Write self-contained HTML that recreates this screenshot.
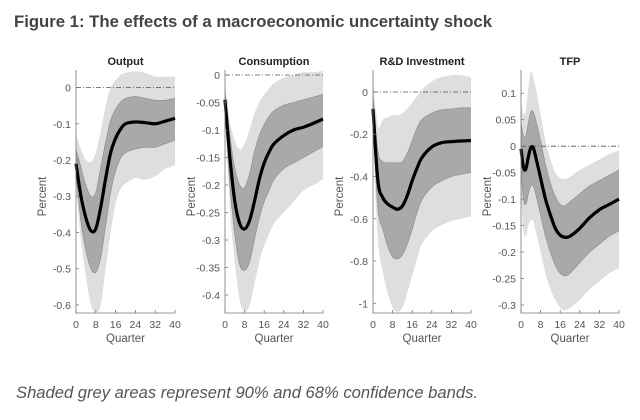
<!DOCTYPE html>
<html><head><meta charset="utf-8"><style>
body{margin:0;background:#fff;width:640px;height:415px;overflow:hidden;font-family:"Liberation Sans",sans-serif}
</style></head><body>
<svg id="fig" width="640" height="415" xmlns="http://www.w3.org/2000/svg">
<text x="14" y="27" font-size="16.5" font-weight="bold" fill="#444" textLength="478" lengthAdjust="spacingAndGlyphs">Figure 1: The effects of a macroeconomic uncertainty shock</text>
<text x="16" y="398" font-size="16.5" font-style="italic" fill="#555" textLength="462" lengthAdjust="spacingAndGlyphs">Shaded grey areas represent 90% and 68% confidence bands.</text>
</svg>
<script>
const quarters = [0,2,4,6,8,10,12,14,16,18,20,24,28,32,36,40];
const outMed = [-0.21,-0.30,-0.36,-0.395,-0.39,-0.33,-0.25,-0.18,-0.14,-0.115,-0.10,-0.095,-0.097,-0.10,-0.093,-0.085];
const outU68 = [-0.17,-0.22,-0.27,-0.30,-0.29,-0.22,-0.15,-0.09,-0.06,-0.04,-0.03,-0.025,-0.03,-0.035,-0.035,-0.03];
const outL68 = [-0.24,-0.37,-0.45,-0.50,-0.51,-0.47,-0.38,-0.29,-0.23,-0.195,-0.18,-0.17,-0.165,-0.165,-0.155,-0.145];
const outU90 = [-0.13,-0.17,-0.20,-0.205,-0.18,-0.12,-0.05,0.0,0.02,0.035,0.04,0.045,0.04,0.03,0.03,0.03];
const outL90 = [-0.27,-0.42,-0.52,-0.60,-0.62,-0.60,-0.50,-0.40,-0.32,-0.28,-0.265,-0.25,-0.255,-0.245,-0.225,-0.215];
const conMed = [-0.045,-0.15,-0.23,-0.27,-0.28,-0.265,-0.23,-0.19,-0.16,-0.14,-0.125,-0.11,-0.10,-0.095,-0.088,-0.08];
const conU68 = [-0.03,-0.11,-0.17,-0.20,-0.205,-0.18,-0.14,-0.11,-0.09,-0.075,-0.065,-0.055,-0.05,-0.045,-0.04,-0.035];
const conL68 = [-0.06,-0.2,-0.29,-0.345,-0.355,-0.34,-0.3,-0.26,-0.23,-0.21,-0.19,-0.17,-0.16,-0.15,-0.14,-0.13];
const conU90 = [-0.02,-0.085,-0.12,-0.135,-0.125,-0.1,-0.07,-0.05,-0.035,-0.025,-0.015,-0.005,0.0,0.005,0.005,0.008];
const conL90 = [-0.07,-0.24,-0.34,-0.41,-0.43,-0.42,-0.38,-0.34,-0.31,-0.29,-0.27,-0.25,-0.23,-0.21,-0.2,-0.19];
const rdMed = [-0.08,-0.42,-0.5,-0.53,-0.545,-0.555,-0.54,-0.49,-0.42,-0.36,-0.31,-0.26,-0.24,-0.235,-0.232,-0.23];
const rdU68 = [-0.02,-0.28,-0.33,-0.335,-0.335,-0.335,-0.33,-0.29,-0.23,-0.17,-0.13,-0.1,-0.085,-0.08,-0.075,-0.075];
const rdL68 = [-0.15,-0.55,-0.65,-0.73,-0.78,-0.79,-0.77,-0.72,-0.65,-0.57,-0.51,-0.45,-0.42,-0.4,-0.39,-0.38];
const rdU90 = [0.05,-0.16,-0.13,-0.12,-0.11,-0.11,-0.1,-0.08,-0.05,-0.02,0.01,0.05,0.07,0.08,0.08,0.07];
const rdL90 = [-0.2,-0.7,-0.85,-0.95,-1.02,-1.04,-1.02,-0.95,-0.87,-0.79,-0.72,-0.66,-0.63,-0.61,-0.6,-0.59];
const tfpQuarters = [0,1,2,3,4,5,6,8,10,12,14,16,18,20,24,28,32,36,40];
const tfpMed = [-0.005,-0.04,-0.043,-0.02,-0.003,-0.003,-0.02,-0.06,-0.1,-0.13,-0.155,-0.168,-0.172,-0.17,-0.155,-0.135,-0.12,-0.11,-0.1];
const tfpU68 = [0.045,0.02,0.02,0.045,0.065,0.065,0.05,0.01,-0.035,-0.07,-0.095,-0.11,-0.112,-0.105,-0.09,-0.075,-0.065,-0.055,-0.045];
const tfpL68 = [-0.05,-0.1,-0.11,-0.09,-0.075,-0.075,-0.09,-0.13,-0.17,-0.2,-0.225,-0.24,-0.245,-0.24,-0.22,-0.2,-0.185,-0.17,-0.16];
const tfpU90 = [0.09,0.06,0.07,0.11,0.14,0.13,0.11,0.06,0.01,-0.025,-0.05,-0.06,-0.062,-0.058,-0.045,-0.035,-0.025,-0.015,-0.008];
const tfpL90 = [-0.1,-0.16,-0.17,-0.15,-0.14,-0.14,-0.16,-0.2,-0.24,-0.27,-0.29,-0.305,-0.31,-0.305,-0.29,-0.27,-0.255,-0.24,-0.23];
const xTicks = [0,8,16,24,32,40];
const outTicks = [0,-0.1,-0.2,-0.3,-0.4,-0.5,-0.6];
const conTicks = [0,-0.05,-0.1,-0.15,-0.2,-0.25,-0.3,-0.35,-0.4];
const rdTicks = [0,-0.2,-0.4,-0.6,-0.8,-1];
const tfpTicks = [0.1,0.05,0,-0.05,-0.1,-0.15,-0.2,-0.25,-0.3];

const NS="http://www.w3.org/2000/svg";
const svg=document.getElementById('fig');
function mk(tag,attrs,parent){const e=document.createElementNS(NS,tag);for(const k in attrs)e.setAttribute(k,attrs[k]);(parent||svg).appendChild(e);return e;}
function pts(xs,ys,sx,sy){return xs.map((q,i)=>[sx(q),sy(ys[i])]);}
function curve(p,start){let d=start?`M${p[0][0]},${p[0][1]}`:`L${p[0][0]},${p[0][1]}`;
 for(let i=0;i<p.length-1;i++){const p0=p[Math.max(0,i-1)],p1=p[i],p2=p[i+1],p3=p[Math.min(p.length-1,i+2)];
  const c1=[p1[0]+(p2[0]-p0[0])/6,p1[1]+(p2[1]-p0[1])/6],c2=[p2[0]-(p3[0]-p1[0])/6,p2[1]-(p3[1]-p1[1])/6];
  d+=`C${c1[0]},${c1[1]} ${c2[0]},${c2[1]} ${p2[0]},${p2[1]}`;}return d;}
function fmt(v){return String(v);}
function panel(name,title,x0,x1,yTop,yBot,vTop,vBot,qs,med,u68,l68,u90,l90,ticks){
 const g=mk('g',{});
 
 
 const sx=q=>x0+(x1-x0)*q/40, sy=v=>yTop+(yBot-yTop)*(vTop-v)/(vTop-vBot);
 const band=(u,l,fill,nm)=>{const pu=pts(qs,u,sx,sy),pl=pts(qs,l,sx,sy).reverse();
  const e=mk('path',{d:curve(pu,true)+curve(pl,false)+'Z',fill:fill},g);
  
  };
 band(u90,l90,'#dedede',name+'-band-90');
 band(u68,l68,'#a9a9a9',name+'-band-68');
 [[u68],[l68]].forEach(a=>{mk('path',{d:curve(pts(qs,a[0],sx,sy),true),fill:'none',stroke:'#888','stroke-width':0.6},g);});
 const z=mk('line',{x1:x0,x2:x1,y1:sy(0),y2:sy(0),stroke:'#555','stroke-width':0.8,'stroke-dasharray':'5,2,1,2'},g);
 
 
 const m=mk('path',{d:curve(pts(qs,med,sx,sy),true),fill:'none',stroke:'#000','stroke-width':3.2,'stroke-linejoin':'round'},g);
 
 
 const ax=mk('path',{d:`M${x0},${yTop}V${yBot}H${x1}`,fill:'none',stroke:'#777','stroke-width':0.8},g);
 
 
 xTicks.forEach(t=>{mk('line',{x1:sx(t),x2:sx(t),y1:yBot,y2:yBot-3,stroke:'#777','stroke-width':0.8},g);
  const tx=mk('text',{x:sx(t),y:yBot+15,'font-size':10.5,fill:'#555','text-anchor':'middle'},g);tx.textContent=t;
  
  });
 ticks.forEach(t=>{mk('line',{x1:x0,x2:x0+3,y1:sy(t),y2:sy(t),stroke:'#777','stroke-width':0.8},g);
  const tx=mk('text',{x:x0-5,y:sy(t)+4,'font-size':10.5,fill:'#555','text-anchor':'end'},g);tx.textContent=fmt(t);
  
  });
 const tt=mk('text',{x:(x0+x1)/2,y:65,'font-size':11,'font-weight':'bold',fill:'#222','text-anchor':'middle'},g);tt.textContent=title;
 
 
 const xl=mk('text',{x:(x0+x1)/2,y:342,'font-size':11.5,fill:'#555','text-anchor':'middle'},g);xl.textContent='Quarter';
 
 
 const yx=x0-30, yy=(yTop+yBot)/2+5;
 const yl=mk('text',{x:yx,y:yy,'font-size':11.5,fill:'#555','text-anchor':'middle',transform:`rotate(-90 ${yx} ${yy})`},g);yl.textContent='Percent';
 
 
}
panel('output','Output',76,175,70,313,0.0484,-0.6224,quarters,outMed,outU68,outL68,outU90,outL90,outTicks);
panel('consumption','Consumption',225,323,70,313,0.0091,-0.4327,quarters,conMed,conU68,conL68,conU90,conL90,conTicks);
panel('rd-investment','R&D Investment',373,471,70,313,0.104,-1.046,quarters,rdMed,rdU68,rdL68,rdU90,rdL90,rdTicks);
panel('tfp','TFP',521,619,70,313,0.1439,-0.315,tfpQuarters,tfpMed,tfpU68,tfpL68,tfpU90,tfpL90,tfpTicks);
</script>
</body></html>
